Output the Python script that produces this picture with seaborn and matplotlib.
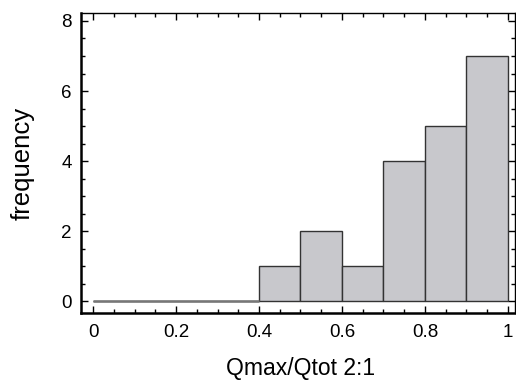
import numpy as np
import matplotlib
matplotlib.use("Agg")
import matplotlib.pyplot as plt
import seaborn as sns
from matplotlib.ticker import MultipleLocator

bin_edges = [0.0, 0.1, 0.2, 0.3, 0.4, 0.5, 0.6, 0.7, 0.8, 0.9, 1.0]
counts = [0, 0, 0, 0, 1, 2, 1, 4, 5, 7]
x_label = "Qmax/Qtot 2:1"
y_label = "frequency"

sns.set_style("ticks")
plt.rcParams['font.family'] = ['Liberation Sans', 'DejaVu Sans']
plt.rcParams['text.color'] = 'black'
plt.rcParams['axes.labelcolor'] = 'black'

fig = plt.figure(figsize=(5.16, 3.8), dpi=100)
ax = fig.add_axes([0.157, 0.176, 0.841, 0.79])

centers = [(a + b) / 2 for a, b in zip(bin_edges[:-1], bin_edges[1:])]
sns.histplot(x=centers, weights=counts, bins=bin_edges, ax=ax,
             color="#c8c8cc", edgecolor="#333333", linewidth=1.0, alpha=1.0)
# zero-count bins drawn as a flat line
zero_bins = [(a, b) for a, b, c in zip(bin_edges[:-1], bin_edges[1:], counts) if c == 0]
if zero_bins:
    ax.hlines(0, zero_bins[0][0], zero_bins[-1][1], color="#777777", linewidth=1.8, zorder=3)

ax.set_xlim(-0.029, 1.017)
ax.set_ylim(-0.34, 8.23)
ax.xaxis.set_major_locator(MultipleLocator(0.2))
ax.xaxis.set_minor_locator(MultipleLocator(0.05))
ax.yaxis.set_major_locator(MultipleLocator(2))
ax.yaxis.set_minor_locator(MultipleLocator(0.5))
ax.set_xticks([0, 0.2, 0.4, 0.6, 0.8, 1.0])
ax.set_xticklabels(["0", "0.2", "0.4", "0.6", "0.8", "1"])

ax.tick_params(which="both", direction="in", top=True, right=True, colors="black",
               labelcolor="black", labelsize=13.5)
ax.tick_params(which="major", length=5, width=1)
ax.tick_params(which="minor", length=3, width=1)
ax.tick_params(axis="x", which="major", pad=7.5)
ax.tick_params(axis="y", which="major", pad=6.5)
for side in ["left", "bottom"]:
    ax.spines[side].set_linewidth(1.8)
for side in ["top", "right"]:
    ax.spines[side].set_linewidth(1.0)
for s in ax.spines.values():
    s.set_color("black")
    s.set_visible(True)

ax.set_xlabel(x_label, fontsize=16.5, color="black")
ax.set_ylabel(y_label, fontsize=18.5, color="black")
ax.xaxis.set_label_coords(0.505, -0.147)
ax.yaxis.set_label_coords(-0.106, 0.5)

fig.savefig("out.png", dpi=100)
